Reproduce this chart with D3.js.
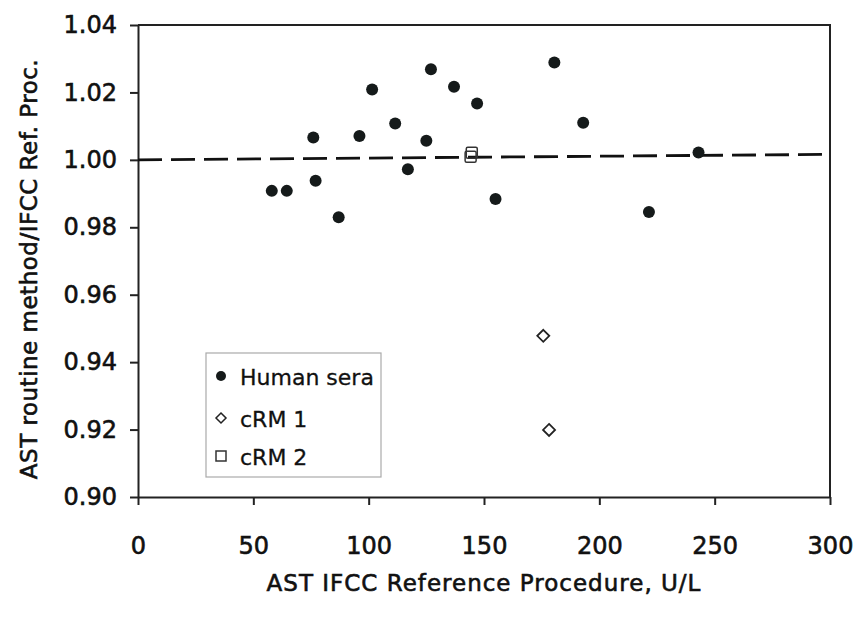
<!DOCTYPE html>
<html>
<head>
<meta charset="utf-8">
<script src="https://cdn.jsdelivr.net/npm/d3@7"></script>
<style>
  body { margin: 0; background: #fff; }
  svg text { font-family: "DejaVu Sans", sans-serif; fill: #111; }
</style>
</head>
<body>
<svg width="857" height="619"></svg>
<script>
const width = 857, height = 619;
const svg = d3.select("svg");

// human sera (x = IFCC ref. U/L, y = ratio routine/ref)
const humanX = [58, 64.5, 76, 77, 87, 96, 101.5, 111.5, 117, 125, 127, 137, 147, 155, 180.5, 193, 221.5, 243];
const humanY = [0.9908, 0.9908, 1.0066, 0.9938, 0.9830, 1.0071, 1.0209, 1.0108, 0.9972, 1.0057, 1.0269, 1.0217, 1.0167, 0.9884, 1.0289, 1.0110, 0.9845, 1.0022];
// control materials
const crm1X = [175.7, 178.2];
const crm1Y = [0.9478, 0.9199];
const crm2X = [144.2, 144.7];
const crm2Y = [1.0009, 1.0021];
// dashed line
const lineX = [0, 297];
const lineY = [1.0000, 1.0016];

const xTicks = [0, 50, 100, 150, 200, 250, 300];
const yTicks = [0.90, 0.92, 0.94, 0.96, 0.98, 1.00, 1.02, 1.04];
const legendLabels = ["Human sera", "cRM 1", "cRM 2"];

const margin = { top: 25, right: 27, bottom: 122, left: 138 };
const innerW = width - margin.left - margin.right;
const innerH = height - margin.top - margin.bottom;

const x = d3.scaleLinear().domain([0, 300]).range([0, innerW]);
const y = d3.scaleLinear().domain([0.90, 1.04]).range([innerH, 0]);

const g = svg.append("g")
  .attr("transform", `translate(${margin.left},${margin.top})`);

// cadre haut / droite
g.append("path")
  .attr("d", `M0,0H${innerW}V${innerH}`)
  .attr("fill", "none")
  .attr("stroke", "#222")
  .attr("stroke-width", 2);

// axes
const xAxis = g.append("g")
  .attr("transform", `translate(0,${innerH})`)
  .call(d3.axisBottom(x).tickValues(xTicks).tickSize(8).tickPadding(32).tickSizeOuter(0));
const yAxis = g.append("g")
  .call(d3.axisLeft(y).tickValues(yTicks).tickFormat(d3.format(".2f")).tickSize(8).tickPadding(13).tickSizeOuter(0));

[xAxis, yAxis].forEach(a => {
  a.select(".domain").attr("stroke", "#222").attr("stroke-width", 2);
  a.selectAll(".tick line").attr("stroke", "#222").attr("stroke-width", 2);
  a.selectAll("text").attr("font-size", "24px").attr("fill", "#111")
    .attr("stroke", "#111").attr("stroke-width", 0.6)
    .style("font-family", "DejaVu Sans, sans-serif");
});

// ligne pointillée
g.append("path")
  .datum(lineX.map((v, i) => [v, lineY[i]]))
  .attr("d", d3.line().x(d => x(d[0])).y(d => y(d[1])))
  .attr("fill", "none")
  .attr("stroke", "#111")
  .attr("stroke-width", 2.8)
  .attr("stroke-dasharray", "24,9");

// points
const diamond = s => `M0,${-s}L${s},0L0,${s}L${-s},0Z`;

g.selectAll("circle.human")
  .data(humanX.map((v, i) => [v, humanY[i]]))
  .enter().append("circle")
  .attr("class", "human")
  .attr("cx", d => x(d[0]))
  .attr("cy", d => y(d[1]))
  .attr("r", 6)
  .attr("fill", "#151a1a");

g.selectAll("path.crm1")
  .data(crm1X.map((v, i) => [v, crm1Y[i]]))
  .enter().append("path")
  .attr("class", "crm1")
  .attr("transform", d => `translate(${x(d[0])},${y(d[1])})`)
  .attr("d", diamond(6))
  .attr("fill", "#fff")
  .attr("stroke", "#222")
  .attr("stroke-width", 1.8);

g.selectAll("rect.crm2")
  .data(crm2X.map((v, i) => [v, crm2Y[i]]))
  .enter().append("rect")
  .attr("class", "crm2")
  .attr("x", d => x(d[0]) - 5.5)
  .attr("y", d => y(d[1]) - 5.5)
  .attr("width", 11)
  .attr("height", 11)
  .attr("rx", 1.5)
  .attr("fill", "none")
  .attr("stroke", "#333")
  .attr("stroke-width", 1.5);

// légende
const leg = svg.append("g").attr("transform", "translate(206,353)");
leg.append("rect")
  .attr("width", 175).attr("height", 124)
  .attr("fill", "#fff")
  .attr("stroke", "#aaa")
  .attr("stroke-width", 1.2);

const rows = leg.selectAll("g.row")
  .data(legendLabels)
  .enter().append("g")
  .attr("class", "row")
  .attr("transform", (d, i) => `translate(15,${[23, 65, 103][i]})`);

rows.each(function (d, i) {
  const r = d3.select(this);
  if (i === 0) r.append("circle").attr("r", 5).attr("fill", "#151a1a");
  if (i === 1) r.append("path").attr("d", diamond(5)).attr("fill", "#fff").attr("stroke", "#222").attr("stroke-width", 1.5);
  if (i === 2) r.append("rect").attr("x", -5).attr("y", -5).attr("width", 10).attr("height", 10)
    .attr("fill", "none").attr("stroke", "#333").attr("stroke-width", 1.5);
});
rows.append("text")
  .attr("x", 19)
  .attr("y", 9)
  .attr("font-size", "22px")
  .attr("stroke", "#111")
  .attr("stroke-width", 0.3)
  .text(d => d);

// titres des axes
svg.append("text")
  .attr("x", margin.left + innerW / 2)
  .attr("y", 591)
  .attr("text-anchor", "middle")
  .attr("font-size", "23px")
  .attr("letter-spacing", "1px")
  .attr("stroke", "#111")
  .attr("stroke-width", 0.6)
  .text("AST IFCC Reference Procedure, U/L");

svg.append("text")
  .attr("transform", `translate(37,${margin.top + innerH / 2 + 8}) rotate(-90)`)
  .attr("text-anchor", "middle")
  .attr("font-size", "23px")
  .attr("letter-spacing", "0.5px")
  .attr("stroke", "#111")
  .attr("stroke-width", 0.6)
  .text("AST routine method/IFCC Ref. Proc.");
</script>
</body>
</html>
